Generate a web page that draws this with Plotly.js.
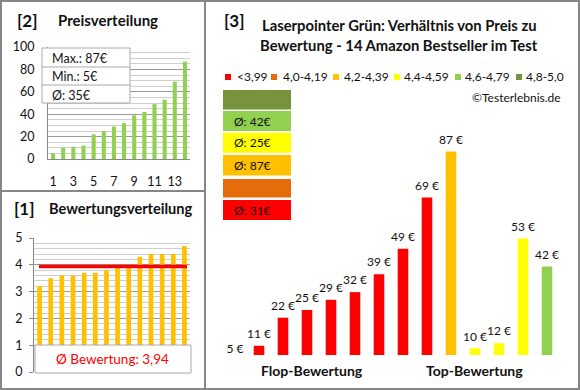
<!DOCTYPE html>
<html>
<head>
<meta charset="utf-8">
<script src="https://cdn.plot.ly/plotly-3.0.1.min.js"></script>
<style>html,body{margin:0;padding:0;background:#fff}#chart{width:580px;height:390px}</style>
</head>
<body>
<div id="chart"></div>
<script>
// ---------- data ----------
// Panel [3]: products in displayed order
var productPrices = [5, 11, 22, 25, 29, 32, 39, 49, 69, 87, 10, 12, 53, 42];
var productRatingGroup = [0, 0, 0, 0, 0, 0, 0, 0, 0, 2, 3, 3, 3, 4];
var ratingGroups = ['<3,99', '4,0-4,19', '4,2-4,39', '4,4-4,59', '4,6-4,79', '4,8-5,0'];
// Panel [1]: ratings, sorted ascending
var ratings = [3.2, 3.5, 3.6, 3.6, 3.7, 3.7, 3.8, 3.9, 3.9, 4.3, 4.4, 4.4, 4.4, 4.7];
// Panel [2]: prices sorted ascending
var sortedPrices = productPrices.slice().sort(function (a, b) { return a - b; });
var priceTicks = [1, 3, 5, 7, 9, 11, 13];
var categoryLabels = ['Flop-Bewertung', 'Top-Bewertung'];

// ---------- style ----------
var groupColors = ['#FF0000', '#E46C0A', '#FFC000', '#FFFF00', '#92D050', '#77933C'];
var FONT = 'Lato, "Open Sans", sans-serif';
var W = 580, H = 390;
function px(x) { return x / W; }
function py(y) { return 1 - y / H; }

var idx = productPrices.map(function (_, i) { return i + 1; });
var avgPrice = Math.round(sortedPrices.reduce(function (a, b) { return a + b; }, 0) / sortedPrices.length);
var meanRating = ratings.reduce(function (a, b) { return a + b; }, 0) / ratings.length;

// right panel value scale: bottom of visible plot area at 355px = 7.4 €
var y3min = 7.4, y3max = 115.0, y3bot = 355, y3top = 80;
var pxPerEuro = (y3bot - y3top) / (y3max - y3min);
var zeroPx = y3bot + y3min * pxPerEuro;

var traces = [
  { type: 'bar', x: idx, y: sortedPrices, xaxis: 'x', yaxis: 'y', width: 0.4,
    marker: { color: '#92D050' }, hoverinfo: 'none' },
  { type: 'bar', x: idx, y: ratings, xaxis: 'x2', yaxis: 'y2', width: 0.42,
    marker: { color: '#FFC000' }, hoverinfo: 'none' },
  { type: 'bar', x: idx, y: productPrices, xaxis: 'x3', yaxis: 'y3', width: 0.44,
    marker: { color: productRatingGroup.map(function (g) { return groupColors[g]; }) }, hoverinfo: 'none' },
  { type: 'scatter', mode: 'markers+text', x: idx, y: productPrices, xaxis: 'x3', yaxis: 'y4',
    text: productPrices.map(function (p) { return p + ' €'; }), textposition: 'top center',
    textfont: { family: FONT, size: 12, color: '#111' },
    marker: { size: 6, opacity: 0, color: '#fff' }, cliponaxis: false, hoverinfo: 'none' }
];

var shapes = [
  // panel borders
  { type: 'rect', xref: 'paper', yref: 'paper', x0: px(1), x1: px(579), y0: py(1), y1: py(389), line: { color: '#868686', width: 2 } },
  { type: 'line', xref: 'paper', yref: 'paper', x0: px(205), x1: px(205), y0: py(1), y1: py(389), line: { color: '#868686', width: 2 } },
  { type: 'line', xref: 'paper', yref: 'paper', x0: px(1), x1: px(205), y0: py(191), y1: py(191), line: { color: '#868686', width: 2 } },
  // panel [2] info box
  { type: 'rect', xref: 'paper', yref: 'paper', x0: px(42), x1: px(130), y0: py(48), y1: py(103), fillcolor: '#fff', line: { color: '#aaa', width: 1 } },
  { type: 'line', xref: 'paper', yref: 'paper', x0: px(42), x1: px(130), y0: py(67), y1: py(67), line: { color: '#aaa', width: 1 } },
  { type: 'line', xref: 'paper', yref: 'paper', x0: px(42), x1: px(130), y0: py(85), y1: py(85), line: { color: '#aaa', width: 1 } },
  // panel [1] mean line and box
  { type: 'line', xref: 'paper', yref: 'y2', x0: px(39), x1: px(187), y0: meanRating, y1: meanRating, line: { color: '#FF0000', width: 3.5 } },
  { type: 'rect', xref: 'paper', yref: 'paper', x0: px(35), x1: px(191), y0: py(345), y1: py(373), fillcolor: '#fff', line: { color: '#aaa', width: 1 } }
];

var annotations = [];
function ann(text, x, y, opts) {
  var a = { text: text, x: px(x), y: py(y), xref: 'paper', yref: 'paper', showarrow: false,
    xanchor: 'left', yanchor: 'middle', font: { family: FONT, size: 12, color: '#111' } };
  for (var k in opts) a[k] = opts[k];
  annotations.push(a);
}
var B16 = { family: FONT, size: 17, color: '#111', weight: 'bold' };
var B15 = { family: FONT, size: 15, color: '#111', weight: 'bold' };
var B14 = { family: FONT, size: 14.6, color: '#111', weight: 'bold' };
var BT = { family: FONT, size: 14.8, color: '#111', weight: 'bold' };
var BC = { family: FONT, size: 14, color: '#111', weight: 'bold' };

ann('<b>[2]</b>', 15, 20, { font: B16 });
ann('<b>Preisverteilung</b>', 56, 20, { font: B15 });
ann('<b>[1]</b>', 12, 208, { font: B16 });
ann('<b>Bewertungsverteilung</b>', 47, 208, { font: B14 });
ann('<b>[3]</b>', 222, 20, { font: B16 });
ann('<b>Laserpointer Grün: Verhältnis von Preis zu</b>', 399, 25, { xanchor: 'center', font: BT });
ann('<b>Bewertung - 14 Amazon Bestseller im Test</b>', 399, 45, { xanchor: 'center', font: BT });

ann('Max.: ' + Math.max.apply(null, sortedPrices) + '€', 50, 58, { font: { family: FONT, size: 12.5, color: '#111' } });
ann('Min.: ' + Math.min.apply(null, sortedPrices) + '€', 50, 76.5, { font: { family: FONT, size: 12.5, color: '#111' } });
ann('Ø: ' + avgPrice + '€', 50, 95, { font: { family: FONT, size: 12.5, color: '#111' } });

ann('Ø Bewertung: ' + meanRating.toFixed(2).replace('.', ','), 112, 359,
  { xanchor: 'center', font: { family: FONT, size: 13.5, color: '#FF0000' } });

// legend of panel [3]
var legSq = [225, 271, 333, 394, 455, 516];
var legTx = [235, 281, 342, 402, 463, 524];
ratingGroups.forEach(function (g, i) {
  shapes.push({ type: 'rect', xref: 'paper', yref: 'paper', x0: px(legSq[i]), x1: px(legSq[i] + 6),
    y0: py(74), y1: py(80), fillcolor: groupColors[i], line: { width: 0 } });
  ann(g, legTx[i], 77, {});
});
ann('©Testerlebnis.de', 563, 97, { xanchor: 'right' });

// average boxes (top row = best group)
var rows = [[90, 109.5], [111, 131], [132.7, 152.7], [155, 175.5], [179, 197.5], [200, 220]];
for (var r = 0; r < 6; r++) {
  var g = 5 - r;
  shapes.push({ type: 'rect', xref: 'paper', yref: 'paper', x0: px(223), x1: px(291),
    y0: py(rows[r][0]), y1: py(rows[r][1]), fillcolor: groupColors[g], line: { width: 0 }, layer: 'below' });
  var members = productPrices.filter(function (p, i) { return productRatingGroup[i] === g; });
  if (members.length) {
    var avg = Math.round(members.reduce(function (a, b) { return a + b; }, 0) / members.length);
    ann('Ø: ' + avg + '€', 232, (rows[r][0] + rows[r][1]) / 2, {});
  }
}
ann('<b>' + categoryLabels[0] + '</b>', 312, 370, { xanchor: 'center', font: BC });
ann('<b>' + categoryLabels[1] + '</b>', 474, 370, { xanchor: 'center', font: BC });

var tickFont = { family: FONT, size: 12.5, color: '#111' };
var layout = {
  width: W, height: H, margin: { l: 0, r: 0, t: 0, b: 0 },
  paper_bgcolor: '#fff', plot_bgcolor: 'rgba(0,0,0,0)', showlegend: false, barmode: 'overlay',
  font: { family: FONT },
  xaxis: { domain: [px(48), px(190)], range: [0.5, 14.5], anchor: 'y', tickvals: priceTicks,
    ticks: '', tickfont: tickFont, ticklabelstandoff: 11, showgrid: false, zeroline: false,
    showline: true, linecolor: '#888', linewidth: 1, fixedrange: true },
  yaxis: { domain: [py(159), py(47)], range: [0, 100], anchor: 'x', dtick: 20, tickfont: tickFont,
    ticks: '', ticklabelstandoff: 10, gridcolor: '#9a9a9a', zeroline: false, showline: true, linecolor: '#888',
    minor: { dtick: 5, showgrid: true, gridcolor: '#cfcfcf' }, fixedrange: true },
  xaxis2: { domain: [px(34), px(190)], range: [0.5, 14.5], anchor: 'y2', showticklabels: false,
    ticks: '', showgrid: false, zeroline: false, showline: false, fixedrange: true },
  yaxis2: { domain: [py(372), py(238)], range: [0, 5], anchor: 'x2', dtick: 1, tickfont: tickFont,
    ticks: 'outside', ticklen: 4, tickcolor: '#888', ticklabelstandoff: 4, gridcolor: '#9a9a9a',
    zeroline: false, showline: true, linecolor: '#888',
    minor: { dtick: 0.2, showgrid: true, gridcolor: '#cfcfcf' }, fixedrange: true },
  xaxis3: { domain: [px(223), px(559)], range: [0.5, 14.5], anchor: 'y3', visible: false, fixedrange: true },
  yaxis3: { domain: [py(y3bot), py(y3top)], range: [y3min, y3max], anchor: 'x3', visible: false, fixedrange: true },
  // same scale as yaxis3 but reaching down to 0, so the label of the clipped 5 € bar is still drawn
  yaxis4: { domain: [py(zeroPx), py(y3top)], range: [0, y3max], anchor: 'x3', visible: false, fixedrange: true },
  shapes: shapes,
  annotations: annotations
};

Plotly.newPlot('chart', traces, layout, { staticPlot: true });
</script>
</body>
</html>
